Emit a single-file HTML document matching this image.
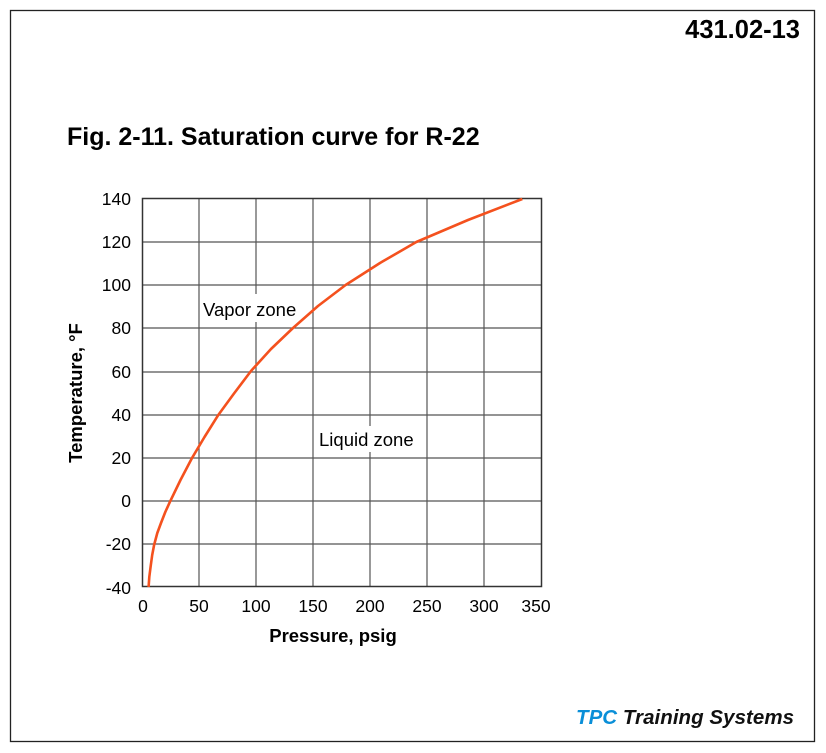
<!DOCTYPE html>
<html><head><meta charset="utf-8"><style>
body{margin:0;background:#fff;}
svg{display:block;font-family:"Liberation Sans",Arial,sans-serif;}
</style></head><body>
<svg width="826" height="753" viewBox="0 0 826 753">
<rect x="0" y="0" width="826" height="753" fill="#fff"/>
<rect x="10.5" y="10.5" width="804" height="731" fill="none" stroke="#222" stroke-width="1.3"/>
<text x="800" y="38" text-anchor="end" font-size="25.5" font-weight="bold">431.02-13</text>
<text x="67" y="145" font-size="25" font-weight="bold">Fig. 2-11. Saturation curve for R-22</text>
<g stroke="#555" stroke-width="1.2">
<line x1="199" y1="199" x2="199" y2="587"/>
<line x1="256" y1="199" x2="256" y2="294"/><line x1="256" y1="322" x2="256" y2="587"/>
<line x1="313" y1="199" x2="313" y2="587"/>
<line x1="370" y1="199" x2="370" y2="426"/><line x1="370" y1="452" x2="370" y2="587"/>
<line x1="427" y1="199" x2="427" y2="587"/>
<line x1="484" y1="199" x2="484" y2="587"/>
<line x1="143" y1="242" x2="541" y2="242"/>
<line x1="143" y1="285" x2="541" y2="285"/>
<line x1="143" y1="328" x2="541" y2="328"/>
<line x1="143" y1="372" x2="541" y2="372"/>
<line x1="143" y1="415" x2="541" y2="415"/>
<line x1="143" y1="458" x2="541" y2="458"/>
<line x1="143" y1="501" x2="541" y2="501"/>
<line x1="143" y1="544" x2="541" y2="544"/>
</g>
<rect x="142.5" y="198.5" width="399" height="388" fill="none" stroke="#333" stroke-width="1.5"/>
<polyline fill="none" stroke="#f4511e" stroke-width="2.6" stroke-linejoin="round" points="148.6,587 149.3,577 150.7,566 152.2,555 154.1,545 157.3,533 161,523 165.3,512 170,501.7 180.5,480 191.7,458.6 204.5,437 218,415.4 234,393.5 251,371 271,349 293,328 318,306 345.6,285 380,263 416.3,242 468,220 522.3,199"/>
<g font-size="17.5" text-anchor="end">
<text x="131" y="205">140</text><text x="131" y="248">120</text><text x="131" y="291">100</text>
<text x="131" y="334">80</text><text x="131" y="378">60</text><text x="131" y="421">40</text>
<text x="131" y="464">20</text><text x="131" y="507">0</text><text x="131" y="550">-20</text>
<text x="131" y="594">-40</text>
</g>
<g font-size="17.5" text-anchor="middle">
<text x="143" y="612">0</text><text x="199" y="612">50</text><text x="256" y="612">100</text>
<text x="313" y="612">150</text><text x="370" y="612">200</text><text x="427" y="612">250</text>
<text x="484" y="612">300</text><text x="536" y="612">350</text>
</g>
<text x="333" y="642" font-size="18.5" font-weight="bold" text-anchor="middle">Pressure, psig</text>
<text transform="translate(82,393) rotate(-90)" font-size="18.5" font-weight="bold" text-anchor="middle">Temperature, °F</text>
<text x="203" y="316" font-size="18.5">Vapor zone</text>
<text x="319" y="446" font-size="18.5">Liquid zone</text>
<text x="576" y="724" font-size="20.5" font-weight="bold" font-style="italic" textLength="218"><tspan fill="#0a8fd8">TPC</tspan><tspan fill="#111"> Training Systems</tspan></text>
</svg>
</body></html>
